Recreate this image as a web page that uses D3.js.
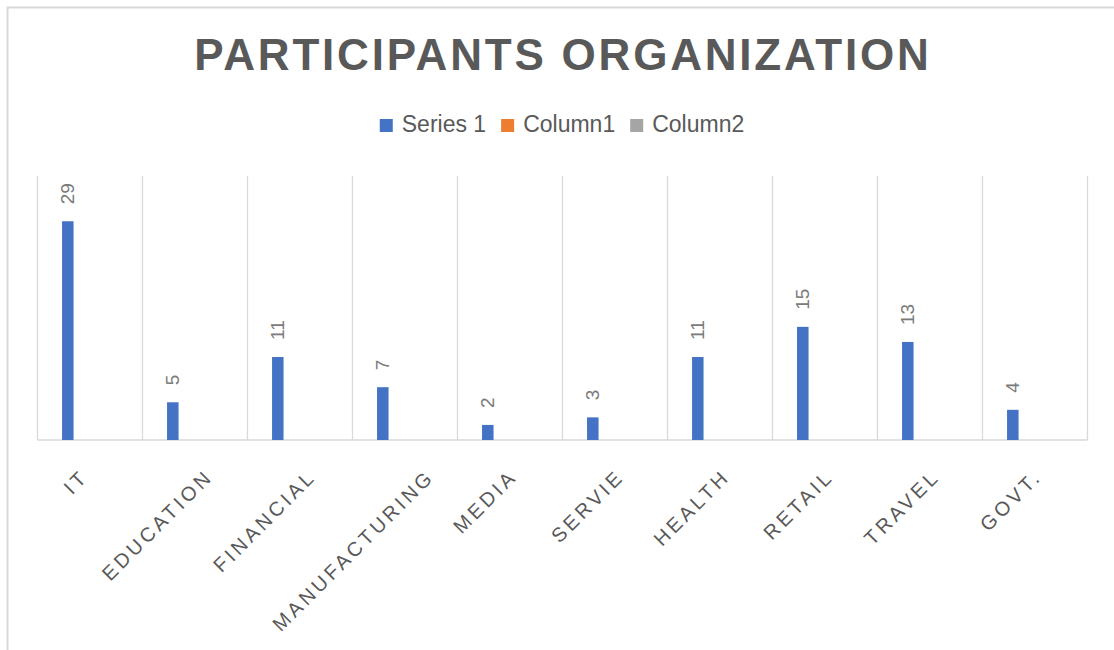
<!DOCTYPE html>
<html>
<head>
<meta charset="utf-8">
<script src="https://cdn.jsdelivr.net/npm/d3@7"></script>
<style>
  body { margin: 0; background: #fff; }
  svg { display: block; font-family: "Liberation Sans", Arial, Helvetica, sans-serif; }
</style>
</head>
<body>
<div id="chart"></div>
<script>
// Datos
const categories = ["IT", "EDUCATION", "FINANCIAL", "MANUFACTURING", "MEDIA", "SERVIE", "HEALTH", "RETAIL", "TRAVEL", "GOVT."];
const seriesNames = ["Series 1", "Column1", "Column2"];
const series1 = [29, 5, 11, 7, 2, 3, 11, 15, 13, 4];
const column1 = [null, null, null, null, null, null, null, null, null, null];
const column2 = [null, null, null, null, null, null, null, null, null, null];
const seriesColors = ["#4472c4", "#ed7d31", "#a5a5a5"];
const yDomain = [0, 35];

const W = 1114, H = 650;
const plot = { left: 37, right: 1087, top: 176, bottom: 440 };
const textColor = "#595959";
const gridColor = "#d9d9d9";

const allSeries = [series1, column1, column2];
const rows = categories.map((c, i) => ({
  cat: c,
  values: seriesNames.map((s, j) => ({ series: s, value: allSeries[j][i] }))
}));

const svg = d3.select("#chart").append("svg").attr("width", W).attr("height", H);

// marco
svg.append("rect")
  .attr("x", 7.5).attr("y", 7.5)
  .attr("width", W + 20).attr("height", H + 20)
  .attr("fill", "#fff").attr("stroke", gridColor).attr("stroke-width", 2);

// titulo
svg.append("text")
  .attr("x", (plot.left + plot.right) / 2 + 1)
  .attr("y", 70)
  .attr("text-anchor", "middle")
  .attr("font-size", 44)
  .attr("font-weight", "bold")
  .attr("letter-spacing", "2.8px")
  .attr("fill", textColor)
  .text("PARTICIPANTS ORGANIZATION");

// escalas
const x0 = d3.scaleBand().domain(categories).range([plot.left, plot.right]).padding(0);
const x1 = d3.scaleBand().domain(seriesNames).range([0, x0.bandwidth()])
  .paddingInner(0.47).paddingOuter(1.154);
const y = d3.scaleLinear().domain(yDomain).range([plot.bottom, plot.top]);

// lineas verticales
const bounds = categories.map((c) => x0(c)).concat([plot.right]);
svg.append("g").selectAll("line")
  .data(bounds)
  .join("line")
  .attr("x1", (d) => Math.round(d) + 0.5).attr("x2", (d) => Math.round(d) + 0.5)
  .attr("y1", plot.top).attr("y2", plot.bottom)
  .attr("stroke", gridColor).attr("stroke-width", 1.3);

// eje x
const xAxis = svg.append("g")
  .attr("transform", `translate(0,${plot.bottom - 0.5})`)
  .call(d3.axisBottom(x0).tickSize(0).tickPadding(0));
xAxis.select(".domain").attr("stroke", gridColor).attr("stroke-width", 1.5);
xAxis.selectAll("text").remove();

// barras
const groups = svg.append("g").selectAll("g")
  .data(rows)
  .join("g")
  .attr("transform", (d) => `translate(${x0(d.cat)},0)`);

groups.selectAll("rect")
  .data((d) => d.values.filter((v) => v.value != null))
  .join("rect")
  .attr("x", (d) => x1(d.series))
  .attr("width", x1.bandwidth())
  .attr("y", (d) => y(d.value))
  .attr("height", (d) => y(0) - y(d.value))
  .attr("fill", (d) => seriesColors[seriesNames.indexOf(d.series)]);

// etiquetas de datos
groups.selectAll("text.lbl")
  .data((d) => d.values.filter((v) => v.value != null))
  .join("text")
  .attr("class", "lbl")
  .attr("transform", (d) => `translate(${x1(d.series) + x1.bandwidth() / 2},${y(d.value) - 17}) rotate(-90)`)
  .attr("dy", "0.35em")
  .attr("font-size", 19)
  .attr("fill", "#7a7a7a")
  .text((d) => d.value);

// etiquetas de categoria
const catLabels = svg.append("g").selectAll("text")
  .data(categories)
  .join("text")
  .attr("text-anchor", "end")
  .attr("font-size", 20)
  .attr("letter-spacing", "3.4px")
  .attr("fill", textColor)
  .text((d) => d);

catLabels.attr("transform", function (d) {
  const L = this.getComputedTextLength();
  const cx = x0(d) + x0.bandwidth() / 2 + 0.16 * L - 4;
  return `translate(${cx},${478}) rotate(-45)`;
});

// leyenda
const legend = svg.append("g");
const items = legend.selectAll("g")
  .data(seriesNames)
  .join("g");
items.append("rect")
  .attr("width", 13).attr("height", 13)
  .attr("y", -13)
  .attr("fill", (d, i) => seriesColors[i]);
items.append("text")
  .attr("x", 22)
  .attr("font-size", 23)
  .attr("fill", textColor)
  .text((d) => d);

const widths = items.nodes().map((n) => n.getBBox().width);
const gap = 15;
const total = d3.sum(widths) + gap * (widths.length - 1);
let start = (plot.left + plot.right) / 2 - total / 2;
items.attr("transform", (d, i) => {
  const tx = start;
  start += widths[i] + gap;
  return `translate(${tx},${132})`;
});
</script>
</body>
</html>
